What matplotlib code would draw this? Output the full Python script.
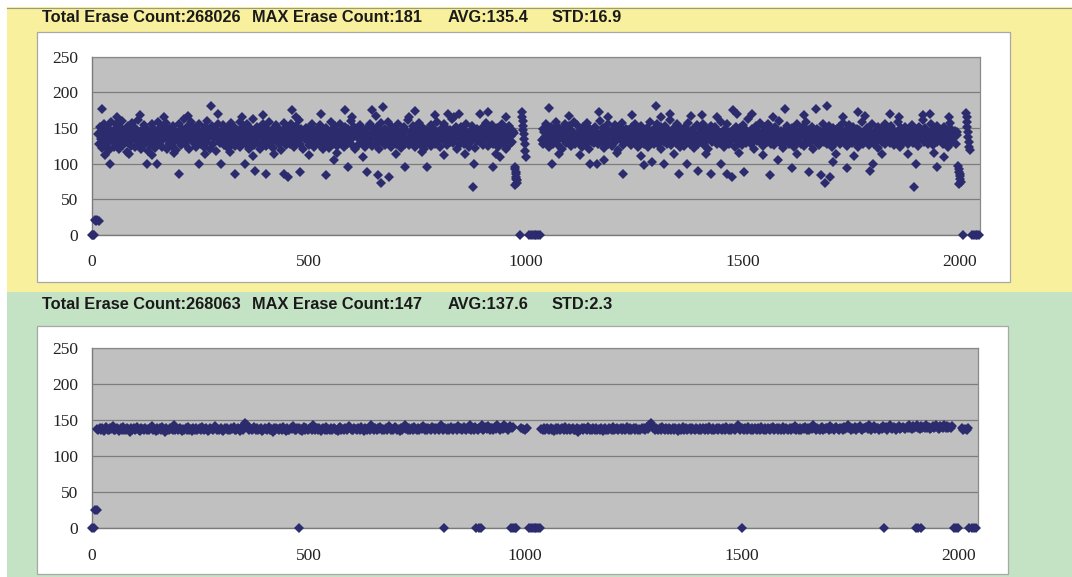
import numpy as np
import matplotlib
matplotlib.use("Agg")
import matplotlib.pyplot as plt
from matplotlib.patches import Rectangle

# ---------------- data (erase count per block) ----------------
# top chart: before wear leveling
top_title_parts = ["Total Erase Count:268026", "MAX Erase Count:181", "AVG:135.4", "STD:16.9"]
top_band_a_start = 14
top_band_a = [
    142, 128, 151, 135, 147, 122, 139, 156, 131, 144, 127, 150, 136, 119, 145, 158, 133, 141, 124, 149,
    138, 155, 129, 143, 121, 152, 134, 146, 160, 126, 140, 132, 148, 117, 137, 153, 130, 144, 125, 157,
    136, 142, 123, 150, 139, 131, 161, 128, 145, 134, 120, 147, 138, 154, 127, 141, 149, 133, 118, 146,
    140, 126, 155, 137, 130, 148, 122, 143, 135, 159, 129, 144, 132, 151, 124, 139, 146, 136, 157, 121,
    134, 150, 128, 142, 138, 125, 153, 131, 147, 140, 119, 145, 137, 156, 130, 143, 126, 149, 135, 162,
    127, 141, 152, 133, 146, 120, 139, 158, 132, 144, 129, 150, 136, 123, 148, 140, 155, 131, 143, 128,
    145, 137, 124, 151, 134, 160, 130, 142, 147, 121, 139, 153, 127, 144, 136, 149, 118, 141, 156, 133,
    138, 129, 146, 135, 154, 126, 143, 131, 150, 140, 122, 148, 137, 157, 128, 145, 134, 152, 125, 139,
    147, 132, 140, 159, 123, 144, 136, 151, 130, 142, 127, 155, 135, 146, 120, 138, 149, 131, 143, 163,
    126, 141, 134, 152, 139, 128, 147, 121, 145, 137, 156, 131, 143, 125, 150, 140, 133, 158, 129, 146,
    135, 148, 122, 143, 138, 154, 130, 141, 127, 149, 136, 119, 145, 133, 157, 139, 126, 151, 142, 131,
    144, 128, 155, 137, 132, 146, 124, 140, 153, 129, 142, 135, 161, 127, 148, 138, 121, 145, 134, 150,
    139, 133, 147, 126, 152, 141, 130, 156, 136, 123, 144, 138, 149, 131, 142, 128, 154, 135, 146, 120,
    143, 137, 129, 150, 134, 145, 122, 140, 158, 132, 147, 127, 139, 153, 136, 125, 144, 141, 130, 155,
    131, 146, 138, 124, 151, 135, 142, 128, 149, 140, 133, 160, 126, 145, 137, 152, 121, 143, 139, 148,
    136, 127, 154, 141, 130, 147, 138, 123, 145, 132, 150, 139, 129, 156, 134, 143, 125, 149, 137, 142,
    128, 152, 135, 144, 121, 140, 157, 131, 146, 136, 126, 148, 142, 133, 159, 138, 130, 145, 124, 151,
    140, 134, 149, 127, 143, 137, 155, 129, 141, 122, 147, 135, 152, 139, 128, 146, 133, 161, 126, 144,
    137, 145, 130, 153, 138, 124, 142, 148, 132, 139, 157, 127, 144, 136, 150, 121, 141, 134, 147, 129,
    146, 131, 139, 125, 154, 140, 133, 149, 128, 143, 137, 158, 130, 145, 123, 148, 136, 142, 155, 132,
    135, 150, 126, 144, 139, 131, 147, 137, 162, 129, 141, 134, 152, 120, 146, 138, 143, 127, 151, 136,
    142, 128, 148, 135, 156, 133, 140, 124, 145, 138, 130, 153, 136, 147, 122, 141, 149, 132, 144, 139,
    130, 147, 137, 151, 126, 143, 134, 157, 139, 125, 148, 136, 142, 131, 154, 128, 145, 140, 133, 150,
    138, 124, 146, 141, 132, 155, 129, 144, 136, 149, 121, 142, 135, 153, 127, 147, 139, 131, 146, 143,
]
top_band_b_start = 1036
top_band_b = [
    133, 149, 127, 144, 138, 156, 130, 141, 146, 123, 137, 152, 135, 128, 148, 140, 159, 132, 143, 126,
    150, 136, 142, 121, 147, 134, 139, 155, 129, 145, 137, 131, 153, 140, 125, 146, 133, 158, 138, 127,
    141, 154, 130, 143, 136, 148, 124, 139, 151, 132, 144, 128, 157, 135, 142, 120, 149, 137, 131, 146,
    129, 140, 152, 134, 145, 127, 138, 160, 131, 143, 136, 150, 122, 147, 133, 141, 155, 128, 139, 144,
    137, 125, 148, 142, 131, 154, 135, 146, 119, 140, 152, 133, 138, 157, 126, 144, 130, 149, 136, 141,
    147, 132, 139, 126, 151, 137, 143, 129, 156, 134, 141, 124, 148, 138, 131, 153, 135, 145, 128, 142,
    134, 150, 123, 144, 139, 158, 130, 146, 136, 127, 149, 141, 133, 155, 128, 143, 137, 121, 151, 140,
    145, 131, 153, 137, 128, 147, 140, 135, 161, 126, 142, 138, 150, 132, 144, 129, 156, 136, 141, 124,
    139, 148, 133, 142, 125, 152, 136, 144, 130, 157, 138, 127, 146, 134, 149, 122, 143, 140, 131, 154,
    128, 143, 150, 135, 140, 132, 155, 126, 145, 139, 133, 148, 120, 141, 137, 153, 130, 147, 136, 144,
    151, 134, 127, 146, 138, 143, 129, 159, 135, 142, 124, 149, 137, 132, 156, 140, 128, 145, 133, 139,
    136, 147, 141, 123, 152, 130, 144, 138, 131, 150, 136, 126, 154, 142, 135, 147, 129, 139, 162, 133,
    142, 127, 149, 136, 145, 121, 140, 153, 132, 146, 138, 130, 157, 134, 143, 125, 151, 137, 141, 148,
    130, 155, 138, 144, 128, 148, 135, 141, 126, 152, 137, 145, 133, 139, 160, 129, 146, 136, 122, 143,
    147, 136, 131, 153, 140, 127, 144, 138, 150, 133, 142, 124, 148, 135, 156, 130, 141, 137, 145, 128,
    139, 151, 125, 143, 136, 158, 132, 147, 140, 129, 145, 134, 152, 121, 144, 138, 131, 149, 135, 142,
    126, 146, 140, 134, 155, 130, 143, 137, 149, 127, 141, 153, 133, 138, 145, 123, 150, 136, 142, 131,
    148, 133, 152, 139, 128, 144, 136, 157, 131, 142, 135, 147, 125, 140, 154, 132, 146, 138, 129, 151,
    137, 143, 130, 149, 141, 124, 147, 134, 139, 159, 128, 145, 136, 142, 132, 150, 138, 126, 144, 140,
    132, 155, 137, 128, 146, 140, 133, 151, 122, 143, 138, 148, 130, 145, 135, 156, 127, 141, 149, 136,
    144, 129, 141, 153, 135, 147, 126, 139, 145, 131, 158, 137, 142, 124, 150, 134, 146, 140, 130, 152,
    138, 145, 127, 140, 133, 149, 136, 154, 129, 143, 137, 131, 147, 141, 125, 152, 135, 144, 139, 161,
    131, 142, 150, 136, 146, 128, 143, 139, 155, 133, 140, 126, 148, 137, 144, 130, 153, 134, 147, 138,
    143, 136, 128, 151, 139, 145, 132, 147, 124, 141, 157, 135, 149, 130, 142, 138, 146, 127, 144, 140,
]
# ragged edges of the band (blocks just above / below the dense part)
top_tail_blocks = [
    30, 58, 85, 110, 138, 165, 190, 222, 260, 290, 318, 345, 370, 395, 420, 470,
    500, 528, 565, 600, 625, 655, 700, 730, 760, 790, 810, 835, 860, 895, 930, 955,
    1075, 1100, 1125, 1190, 1210, 1245, 1265, 1310, 1340, 1380, 1415, 1440, 1490,
    1520, 1545, 1570, 1625, 1640, 1715, 1730, 1755, 1780, 1820, 1860, 1880, 1915, 1940, 1975,
]
top_tail_values = [
    112, 166, 114, 168, 112, 165, 115, 167, 113, 170, 116, 166, 111, 168, 114, 165,
    112, 169, 115, 166, 110, 167, 113, 165, 116, 168, 112, 166, 114, 169, 113, 166,
    114, 167, 112, 166, 115, 168, 111, 165, 114, 167, 113, 166, 115,
    169, 112, 166, 114, 168, 113, 166, 111, 167, 114, 166, 113, 168, 115, 166,
]
# single blocks (outliers, low clusters, empty blocks)
top_extra_blocks = [
    0, 2, 4, 6, 9, 12, 15,
    24, 41, 126, 149, 200, 247, 274, 297, 330, 352, 376, 402, 443, 451, 461, 479,
    539, 557, 582, 590, 634, 646, 660, 667, 671, 684, 722, 745, 773, 821, 845, 877,
    881, 912, 924, 940,
    974, 975, 976, 977, 978, 979, 980, 975, 977,
    985, 990, 991, 992, 993, 994, 995, 996, 997, 998, 999,
    1008, 1012, 1016, 1020, 1024, 1028, 1032,
    1053, 1061, 1148, 1164, 1168, 1180, 1224, 1271, 1290, 1299, 1319, 1331, 1352,
    1371, 1397, 1406, 1426, 1449, 1462, 1474, 1478, 1486, 1502, 1561, 1580, 1597,
    1613, 1652, 1668, 1680, 1690, 1693, 1700, 1708, 1740, 1764, 1792, 1800, 1839,
    1895, 1899, 1931, 1947, 1963,
    1996, 1997, 1998, 1999, 2000, 2001, 2002, 1998,
    2006, 2014, 2015, 2016, 2017, 2018, 2019, 2020, 2021, 2022,
    2028, 2032, 2036, 2040, 2044,
]
top_extra_values = [
    0, 0, 0, 21, 20, 21, 20,
    176, 100, 100, 100, 85, 100, 181, 100, 85, 100, 90, 85, 85, 82, 175, 88,
    84, 105, 175, 95, 88, 175, 84, 73, 179, 82, 95, 174, 95, 170, 170, 68,
    100, 172, 95, 110,
    96, 92, 88, 85, 81, 77, 73, 70, 79,
    0, 173, 166, 160, 153, 147, 141, 134, 127, 118, 110,
    0, 0, 0, 0, 0, 0, 0,
    178, 100, 100, 100, 172, 105, 85, 98, 102, 181, 100, 170, 85,
    100, 90, 168, 85, 100, 85, 82, 175, 170, 88, 84, 105, 176,
    94, 88, 176, 84, 73, 181, 82, 102, 94, 172, 90, 100, 170,
    68, 100, 170, 95, 110,
    97, 93, 89, 86, 83, 79, 75, 72,
    0, 171, 165, 158, 151, 145, 138, 131, 124, 119,
    0, 0, 0, 0, 0,
]

# bottom chart: with wear leveling
bottom_title_parts = ["Total Erase Count:268063", "MAX Erase Count:147", "AVG:137.6", "STD:2.3"]
bot_band_a_start = 12
bot_band_a = [
    138, 136, 139, 137, 140, 135, 138, 141, 137, 136, 139, 138, 142, 136, 137, 140, 138, 135, 139, 137,
    141, 137, 136, 139, 138, 134, 140, 137, 139, 136, 138, 141, 137, 135, 139, 138, 136, 140, 137, 138,
    136, 139, 142, 137, 138, 135, 140, 136, 139, 137, 141, 138, 134, 139, 137, 136, 140, 138, 137, 143,
    137, 139, 136, 138, 140, 135, 138, 137, 139, 136, 141, 137, 138, 135, 139, 137, 140, 136, 138, 139,
    137, 141, 136, 138, 139, 135, 137, 140, 138, 136, 139, 142, 137, 138, 136, 140, 137, 135, 139, 138,
    140, 137, 136, 139, 138, 141, 136, 137, 140, 138, 135, 139, 137, 144, 146, 143, 139, 137, 140, 136,
    138, 141, 137, 139, 136, 138, 140, 135, 137, 139, 138, 136, 141, 137, 138, 134, 139, 137, 140, 138,
    136, 139, 137, 141, 138, 135, 140, 137, 136, 139, 138, 142, 137, 136, 139, 140, 137, 138, 135, 141,
    137, 139, 136, 138, 140, 137, 143, 138, 136, 139, 137, 140, 135, 138, 139, 137, 141, 136, 138, 137,
    139, 136, 140, 138, 137, 135, 139, 141, 137, 138, 136, 140, 137, 139, 142, 138, 136, 137, 140, 138,
    136, 139, 137, 141, 138, 135, 140, 138, 137, 139, 136, 143, 138, 137, 140, 136, 139, 138, 141, 137,
    138, 136, 140, 137, 139, 142, 137, 138, 136, 141, 139, 137, 138, 135, 140, 137, 139, 143, 138, 136,
    140, 137, 139, 136, 141, 138, 137, 140, 136, 139, 138, 142, 137, 139, 136, 140, 138, 137, 141, 139,
    137, 140, 138, 136, 139, 143, 137, 138, 140, 136, 139, 137, 141, 138, 136, 140, 139, 137, 142, 138,
    139, 137, 141, 138, 136, 140, 138, 143, 137, 139, 136, 141, 138, 137, 140, 139, 144, 137, 138, 141,
    138, 142, 137, 140, 139, 136, 141, 138, 143, 139, 137, 140, 138, 144, 139, 141, 137, 140, 142, 139,
    141,
]
bot_band_b_start = 1038
bot_band_b = [
    138, 136, 139, 137, 140, 138, 136, 139, 137, 138, 135, 139, 137, 140, 136, 138, 139, 137, 141, 138,
    136, 139, 137, 138, 140, 136, 137, 139, 134, 138, 137, 140, 136, 139, 138, 137, 141, 136, 138, 137,
    139, 137, 140, 136, 138, 137, 139, 135, 138, 140, 137, 136, 139, 138, 137, 141, 136, 138, 139, 137,
    138, 140, 136, 139, 137, 138, 141, 137, 139, 136, 138, 140, 137, 139, 136, 138, 137, 140, 138, 139,
    137, 141, 138, 143, 146, 142, 139, 137, 140, 138, 136, 139, 137, 141, 138, 136, 140, 137, 139, 138,
    136, 139, 137, 140, 138, 135, 139, 137, 138, 141, 136, 139, 137, 138, 140, 136, 139, 138, 137, 140,
    138, 136, 139, 137, 140, 138, 137, 139, 136, 141, 138, 137, 139, 136, 138, 140, 137, 139, 138, 136,
    139, 137, 141, 138, 136, 140, 137, 139, 138, 136, 140, 144, 139, 137, 140, 138, 136, 139, 137, 141,
    138, 136, 139, 137, 140, 138, 136, 139, 137, 141, 138, 137, 139, 136, 140, 138, 137, 139, 141, 137,
    138, 140, 136, 139, 137, 138, 141, 137, 139, 138, 136, 140, 137, 139, 138, 142, 137, 139, 136, 140,
    137, 139, 138, 141, 136, 139, 137, 140, 138, 143, 139, 137, 140, 138, 136, 139, 141, 137, 138, 140,
    139, 137, 142, 138, 140, 137, 139, 141, 138, 136, 140, 139, 137, 141, 138, 140, 143, 139, 137, 140,
    138, 141, 137, 140, 139, 142, 138, 137, 140, 139, 141, 138, 143, 140, 137, 139, 142, 138, 140, 139,
    137, 140, 138, 142, 139, 141, 137, 140, 144, 139, 138, 141, 140, 137, 139, 142, 138, 140, 141, 139,
    138, 141, 139, 143, 140, 138, 142, 139, 141, 144, 140, 138, 142, 139, 141, 140, 143, 139, 141, 138,
    140, 142, 139, 141, 143, 140, 138, 142, 141, 139, 143, 140, 142, 139, 141, 140, 142,
]
bot_extra_blocks = [
    1, 4, 8, 11,
    479, 813, 886, 893, 899,
    968, 972, 976, 980, 990, 995, 1000, 1005,
    1010, 1014, 1018, 1022, 1026, 1030, 1034,
    1502, 1829, 1902, 1908, 1914,
    1990, 1995, 2000, 2008, 2012, 2016, 2020, 2024,
    2026, 2031, 2036, 2041,
]
bot_extra_values = [
    0, 0, 26, 25,
    0, 0, 0, 0, 0,
    0, 0, 0, 0, 140, 138, 137, 139,
    0, 0, 0, 0, 0, 0, 0,
    0, 0, 0, 0, 0,
    0, 0, 0, 139, 137, 138, 136, 140,
    0, 0, 0, 0,
]

x_ticks = [0, 500, 1000, 1500, 2000]
y_ticks = [0, 50, 100, 150, 200, 250]

# ---------------- figure ----------------
W, H = 1072, 577
fig = plt.figure(figsize=(W / 100, H / 100), dpi=100)
fig.patch.set_facecolor("white")


def box(x0, y0, x1, y1):
    # pixel box (top-left origin) -> figure fraction rect
    return [x0 / W, 1 - y1 / H, (x1 - x0) / W, (y1 - y0) / H]


def add_rect(x0, y0, x1, y1, fc, ec="none", lw=0.0):
    l, b, w, h = box(x0, y0, x1, y1)
    fig.add_artist(Rectangle((l, b), w, h, transform=fig.transFigure,
                             facecolor=fc, edgecolor=ec, linewidth=lw, zorder=-10))


# panel backgrounds
add_rect(7, 7, W + 2, 292, "#f8f09c")
add_rect(7, 292, W + 2, H + 2, "#c4e2c4")
fig.add_artist(plt.Line2D([7 / W, 1], [1 - 7.5 / H] * 2, transform=fig.transFigure,
                          color="#9a9a80", lw=0.8, zorder=-9))
# white chart boxes
add_rect(37, 32, 1010, 282, "white", "#a8a8a8", 0.9)
add_rect(37, 326, 1008, 574, "white", "#a8a8a8", 0.9)

# title pieces sit at fixed columns, like in the source screenshot
title_cols = [41.5, 251.5, 448, 551.5]
for parts, ty in [(top_title_parts, 17.8), (bottom_title_parts, 304.8)]:
    for txt, tx in zip(parts, title_cols):
        fig.text(tx / W, 1 - ty / H, txt, fontsize=11.8, family="Liberation Sans",
                 weight="bold", va="center", ha="left", color="#1a1a1a")

navy = "#2b2b6e"


def draw_panel(rect, series):
    ax = fig.add_axes(box(*rect))
    ax.set_facecolor("#c0c0c0")
    for xs, vals in series:
        ax.plot(xs, vals, linestyle="none", marker="D", markersize=4.9,
                markeredgewidth=0, color=navy, clip_on=False, zorder=3)
    ax.set_xlim(0, 2046)
    ax.set_ylim(0, 250)
    ax.set_xticks(x_ticks)
    ax.set_yticks(y_ticks)
    ax.grid(axis="y", color="#7c7c7c", linewidth=0.9)
    ax.set_axisbelow(True)
    for side in ["top", "right"]:
        ax.spines[side].set_color("#8a8a8a")
        ax.spines[side].set_linewidth(0.9)
    for side in ["left", "bottom"]:
        ax.spines[side].set_color("#7a7a7a")
        ax.spines[side].set_linewidth(1.0)
    ax.tick_params(axis="both", length=0, labelsize=12.5, colors="#222222")
    ax.tick_params(axis="x", pad=14)
    ax.tick_params(axis="y", pad=10)
    for lab in ax.get_xticklabels() + ax.get_yticklabels():
        lab.set_family("Liberation Serif")
    return ax


def blocks(start, step, vals):
    return start + step * np.arange(len(vals))


draw_panel((92, 56.7, 980, 235), [
    (blocks(top_band_a_start, 2, top_band_a), top_band_a),
    (blocks(top_band_b_start, 2, top_band_b), top_band_b),
    (top_tail_blocks, top_tail_values),
    (top_extra_blocks, top_extra_values),
])
draw_panel((92, 348.3, 978, 528.3), [
    (blocks(bot_band_a_start, 3, bot_band_a), bot_band_a),
    (blocks(bot_band_b_start, 3, bot_band_b), bot_band_b),
    (bot_extra_blocks, bot_extra_values),
])

fig.savefig("out.png", dpi=100, facecolor=fig.get_facecolor())
